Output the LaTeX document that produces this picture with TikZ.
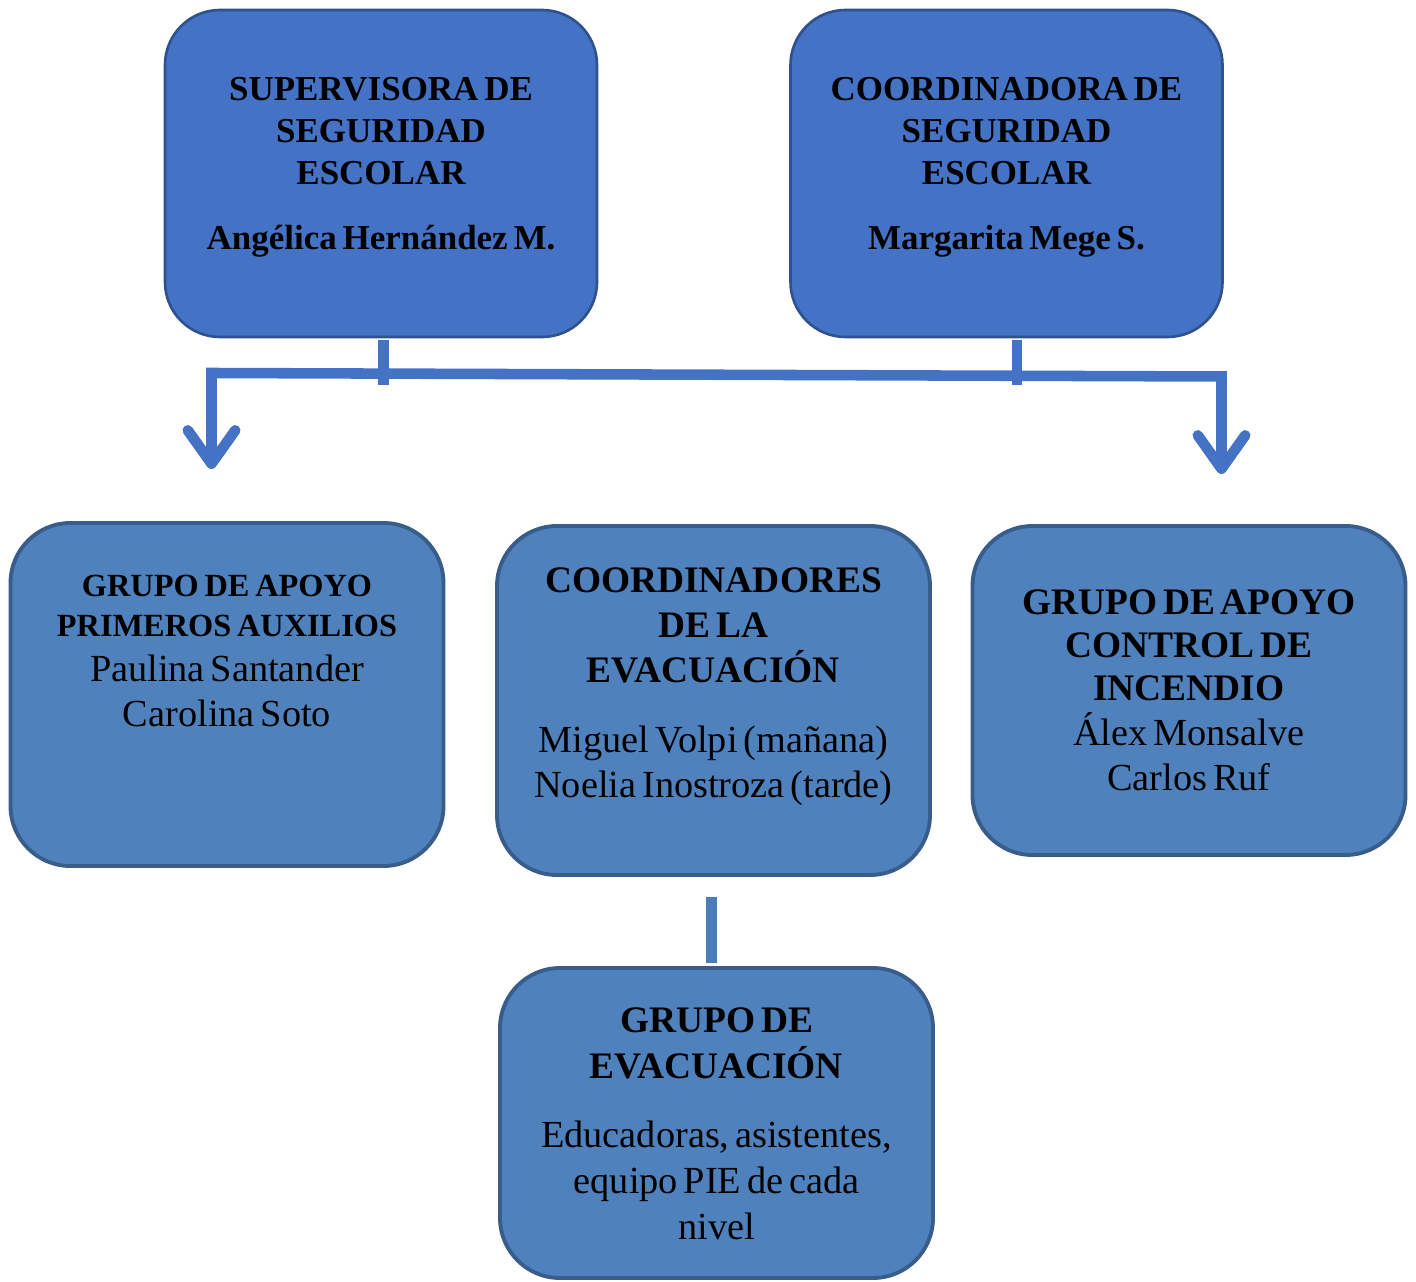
\documentclass[tikz,border=0pt]{standalone}
\usepackage{fontspec}
\setmainfont{Liberation Serif}
\usetikzlibrary{positioning,arrows.meta}
\definecolor{topblue}{HTML}{4472C4}
\definecolor{topedge}{HTML}{2F528F}
\definecolor{boxblue}{HTML}{4F81BD}
\definecolor{boxedge}{HTML}{385D8A}
\definecolor{linkblue}{HTML}{4A7EBB}

\begin{document}
\begin{tikzpicture}[
    topbox/.style={draw=topedge, fill=topblue, line width=1.5pt, rounded corners=1.1cm,
        minimum width=8.64cm, minimum height=6.54cm},
    subbox/.style={draw=boxedge, fill=boxblue, line width=2.2pt, rounded corners=1.2cm,
        minimum width=8.66cm},
    txt/.style={align=center, inner sep=0pt, text width=8.4cm},
    link/.style={topblue, line width=6pt},
    barbs/.style={{Straight Barb[length=19pt,width=27pt,round]}-{Straight Barb[length=19pt,width=27pt,round]}}
]
    \useasboundingbox (0,0) rectangle (28.32,25.62);

    % Top boxes
    \node[topbox] (sup) at (7.62,22.15) {};
    \node[topbox] (coo) at (20.13,22.15) {};
    \node[txt, below=1.36cm of sup.north] (supt) {\fontsize{19.9}{24.1}\selectfont\bfseries
        SUPERVISORA DE\\SEGURIDAD\\ESCOLAR\\[12.8pt]Angélica Hernández M.\par};
    \node[txt, below=1.36cm of coo.north] (coot) {\fontsize{19.9}{24.1}\selectfont\bfseries
        COORDINADORA DE\\SEGURIDAD\\ESCOLAR\\[12.8pt]Margarita Mege S.\par};

    % Middle boxes
    \node[subbox, minimum height=6.86cm] (aux) at (4.54,11.73) {};
    \node[subbox, minimum height=6.98cm] (eva) at (14.27,11.61) {};
    \node[subbox, minimum height=6.58cm] (inc) at (23.78,11.81) {};
    \node[txt, below=1.08cm of aux.north] (auxt) {\fontsize{18.4}{22.7}\selectfont\bfseries
        GRUPO DE APOYO\\PRIMEROS AUXILIOS\par
        \fontsize{21.8}{25.5}\selectfont\mdseries Paulina Santander\\Carolina Soto\par};
    \node[txt, below=0.87cm of eva.north] (evat) {\fontsize{21.3}{25.5}\selectfont\bfseries
        COORDINADORES\\DE LA\\EVACUACIÓN\\[14pt]\fontsize{21.8}{25.8}\selectfont\mdseries
        Miguel Volpi (mañana)\\Noelia Inostroza (tarde)\par};
    \node[txt, below=1.31cm of inc.north] (inct) {\fontsize{21.3}{24.4}\selectfont\bfseries
        GRUPO DE APOYO\\CONTROL DE\\INCENDIO\par
        \fontsize{21.8}{25.5}\selectfont\mdseries Álex Monsalve\\Carlos Ruf\par};

    % Bottom box
    \node[subbox, minimum height=6.2cm] (grp) at (14.33,3.16) {};
    \node[txt, below=0.83cm of grp.north] (grpt) {\fontsize{21.3}{26.1}\selectfont\bfseries
        GRUPO DE\\EVACUACIÓN\\[13pt]\fontsize{21.8}{26.1}\selectfont\mdseries
        Educadoras, asistentes,\\equipo PIE de cada\\nivel\par};

    % Connectors
    \coordinate (kneeL) at (4.23,18.16);
    \coordinate (kneeR) at (24.43,18.09);
    \coordinate (tipL) at (4.23,16.24);
    \coordinate (tipR) at (24.43,16.14);
    \coordinate (stubL) at (7.67,17.92);
    \coordinate (stubR) at (20.34,17.92);
    \coordinate (linkA) at (14.23,7.68);
    \coordinate (linkB) at (14.23,6.36);

    \draw[link] ([yshift=-0.75pt]sup.south -| stubL) -- (stubL);
    \draw[link] ([yshift=-0.75pt]coo.south -| stubR) -- (stubR);
    \draw[link, barbs] (tipL) -- (kneeL) -- (kneeR) -- (tipR);
    \draw[link, linkblue] (linkA) -- (linkB);
\end{tikzpicture}
\end{document}
